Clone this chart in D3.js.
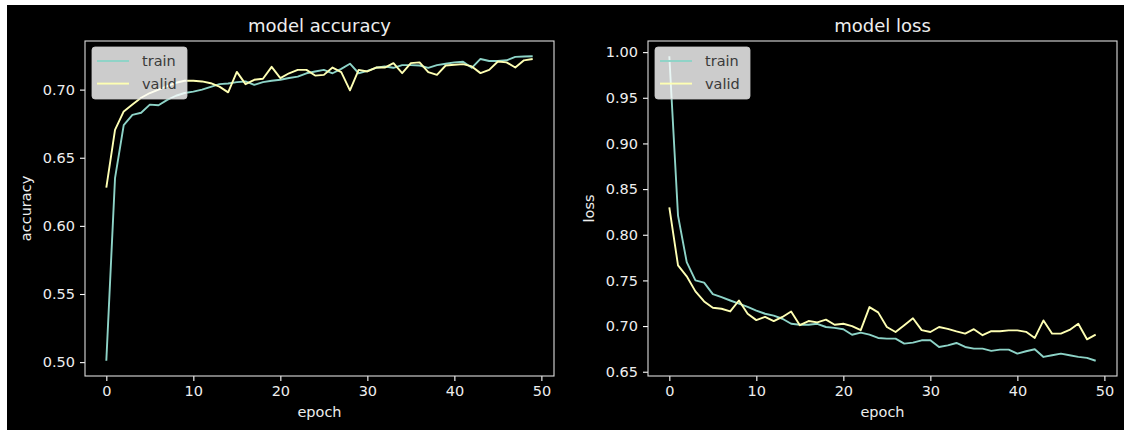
<!DOCTYPE html>
<html>
<head>
<meta charset="utf-8">
<script src="https://cdnjs.cloudflare.com/ajax/libs/d3/7.8.5/d3.min.js"></script>
<style>
body { margin: 0; background: #fff; }
svg { display: block; font-family: "DejaVu Sans", sans-serif; }
</style>
</head>
<body>
<div id="chart"></div>
<script>
// values
const trainAcc = [0.501, 0.635, 0.674, 0.6815, 0.683, 0.689, 0.6885, 0.6925, 0.6955, 0.6975,
    0.6985, 0.700, 0.702, 0.704, 0.7045, 0.7055, 0.706, 0.7035, 0.7055, 0.7065,
    0.7072, 0.7085, 0.7095, 0.712, 0.7133, 0.7145, 0.712, 0.7152, 0.719, 0.712,
    0.7138, 0.716, 0.717, 0.716, 0.718, 0.718, 0.7177, 0.716, 0.718, 0.719,
    0.720, 0.7205, 0.716, 0.7225, 0.721, 0.721, 0.7215, 0.724, 0.7243, 0.7245];
const validAcc = [0.628, 0.6705, 0.684, 0.689, 0.694, 0.6975, 0.700, 0.7025, 0.705, 0.7065,
    0.7065, 0.706, 0.7047, 0.7022, 0.698, 0.713, 0.704, 0.7072, 0.708, 0.7167,
    0.7084, 0.712, 0.7145, 0.7145, 0.7103, 0.7108, 0.7162, 0.7128, 0.6995, 0.7145,
    0.7133, 0.7162, 0.7162, 0.7194, 0.7121, 0.7194, 0.720, 0.7128, 0.7108, 0.7177,
    0.7182, 0.7187, 0.717, 0.7121, 0.7145, 0.7206, 0.720, 0.7162, 0.7215, 0.7225];
const trainLoss = [0.9955, 0.821, 0.770, 0.750, 0.7475, 0.735, 0.7317, 0.728, 0.7245, 0.721,
    0.717, 0.7135, 0.7115, 0.708, 0.7025, 0.7015, 0.7015, 0.7025, 0.699, 0.698,
    0.6965, 0.6905, 0.6928, 0.6906, 0.687, 0.6862, 0.6862, 0.6808, 0.6819, 0.6844,
    0.6844, 0.6771, 0.6789, 0.6815, 0.6771, 0.6753, 0.6753, 0.6728, 0.6742, 0.6742,
    0.6698, 0.6724, 0.6746, 0.6662, 0.668, 0.6698, 0.668, 0.6663, 0.6652, 0.662];
const validLoss = [0.830, 0.7665, 0.7545, 0.738, 0.727, 0.720, 0.719, 0.716, 0.728, 0.7135,
    0.7065, 0.710, 0.7055, 0.710, 0.716, 0.701, 0.7055, 0.704, 0.707, 0.7015,
    0.7025, 0.700, 0.6955, 0.7208, 0.715, 0.699, 0.6935, 0.701, 0.7085, 0.6955,
    0.6935, 0.699, 0.697, 0.6942, 0.6917, 0.6966, 0.690, 0.6944, 0.6943, 0.6953,
    0.6953, 0.6937, 0.687, 0.7062, 0.6917, 0.6917, 0.6958, 0.7026, 0.6855, 0.6906];

const seriesNames = ['train', 'valid'];
const seriesColors = ['#8dd3c7', '#feffb3'];
const epochTicks = [0, 10, 20, 30, 40, 50];
const accTicks = [0.50, 0.55, 0.60, 0.65, 0.70];
const lossTicks = [0.65, 0.70, 0.75, 0.80, 0.85, 0.90, 0.95, 1.00];

const width = 1124, height = 430;
const plotTop = 41, plotBottom = 376;
const panelWidth = 469;

const svg = d3.select('#chart').append('svg')
    .attr('width', width)
    .attr('height', height);

svg.append('rect')
    .attr('x', 7).attr('y', 5)
    .attr('width', width - 7).attr('height', height - 5)
    .attr('fill', '#000');

// matplotlib style 5% margins around the data
function padded(extent) {
    let p = (extent[1] - extent[0]) * 0.05;
    return [extent[0] - p, extent[1] + p];
}

function drawPanel(left, title, ylabel, series, yTicks, labelX) {
    let g = svg.append('g');
    let epochs = series[0].map((d, i) => i);
    let x = d3.scaleLinear().domain(padded(d3.extent(epochs))).range([left, left + panelWidth]);
    let y = d3.scaleLinear().domain(padded(d3.extent(series.flat()))).range([plotBottom, plotTop]);

    let xAxis = g.append('g')
        .attr('transform', 'translate(0,' + plotBottom + ')')
        .call(d3.axisBottom(x).tickValues(epochTicks).tickFormat(d3.format('d'))
            .tickSize(5).tickPadding(5).tickSizeOuter(0));
    let yAxis = g.append('g')
        .attr('transform', 'translate(' + left + ',0)')
        .call(d3.axisLeft(y).tickValues(yTicks).tickFormat(d3.format('.2f'))
            .tickSize(5).tickPadding(5).tickSizeOuter(0));
    [xAxis, yAxis].forEach(a => {
        a.select('.domain').remove();
        a.selectAll('line').attr('stroke', '#fff').attr('stroke-width', 1.1);
        a.selectAll('text').attr('fill', '#eee').attr('font-size', 14.5)
            .attr('font-family', '"DejaVu Sans", sans-serif');
    });

    let line = d3.line().x((d, i) => x(i)).y(d => y(d));
    series.forEach((s, k) => {
        g.append('path')
            .attr('d', line(s))
            .attr('fill', 'none')
            .attr('stroke', seriesColors[k])
            .attr('stroke-width', 1.9)
            .attr('stroke-linejoin', 'round');
    });

    // frame
    g.append('rect')
        .attr('x', left).attr('y', plotTop)
        .attr('width', panelWidth).attr('height', plotBottom - plotTop)
        .attr('fill', 'none')
        .attr('stroke', '#ddd')
        .attr('stroke-width', 1.1);

    g.append('text')
        .attr('x', left + panelWidth / 2).attr('y', plotTop - 9)
        .attr('text-anchor', 'middle')
        .attr('font-size', 18)
        .attr('fill', '#eee')
        .text(title);

    g.append('text')
        .attr('x', left + panelWidth / 2).attr('y', 417)
        .attr('text-anchor', 'middle')
        .attr('font-size', 14.5)
        .attr('fill', '#eee')
        .text('epoch');

    g.append('text')
        .attr('transform', 'translate(' + labelX + ',' + (plotTop + plotBottom) / 2 + ') rotate(-90)')
        .attr('text-anchor', 'middle')
        .attr('font-size', 14.5)
        .attr('fill', '#eee')
        .text(ylabel);

    // legend, upper left
    let lg = g.append('g').attr('transform', 'translate(' + (left + 7) + ',' + (plotTop + 6) + ')');
    lg.append('rect')
        .attr('width', 95).attr('height', 52).attr('rx', 3)
        .attr('fill', '#fff').attr('fill-opacity', 0.8)
        .attr('stroke', '#ccc').attr('stroke-opacity', 0.8);
    seriesNames.forEach((name, k) => {
        let ly = 14 + k * 22.6;
        lg.append('line')
            .attr('x1', 5).attr('x2', 37).attr('y1', ly).attr('y2', ly)
            .attr('stroke', seriesColors[k]).attr('stroke-width', 1.9);
        lg.append('text')
            .attr('x', 50).attr('y', ly)
            .attr('dominant-baseline', 'central')
            .attr('font-size', 14.5)
            .attr('fill', '#3a3a3a')
            .text(name);
    });
}

drawPanel(85, 'model accuracy', 'accuracy', [trainAcc, validAcc], accTicks, 31);
drawPanel(648, 'model loss', 'loss', [trainLoss, validLoss], lossTicks, 594);
</script>
</body>
</html>
